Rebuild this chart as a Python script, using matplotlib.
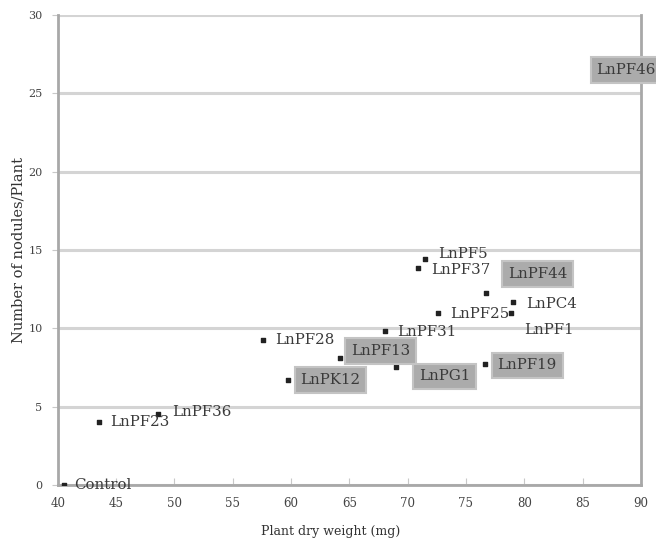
import matplotlib
matplotlib.use("Agg")
from matplotlib import pyplot as plt

# datos
cepas = ['Control', 'LnPF23', 'LnPF36', 'LnPF28', 'LnPK12', 'LnPF13', 'LnPG1',
         'LnPF31', 'LnPF19', 'LnPF25', 'LnPF44', 'LnPC4', 'LnPF1', 'LnPF5',
         'LnPF37', 'LnPF46']
peso_seco = [40.5, 43.5, 48.6, 57.6, 59.7, 64.2, 69.0,
             68.1, 76.6, 72.6, 76.7, 79.0, 78.9, 71.5,
             70.9, 86.0]
nodulos = [0.0, 4.0, 4.5, 9.25, 6.7, 8.1, 7.5,
           9.8, 7.7, 11.0, 12.25, 11.7, 11.0, 14.4,
           13.85, 26.5]
destacadas = ['LnPK12', 'LnPF13', 'LnPG1', 'LnPF19', 'LnPF44', 'LnPF46']

# desplazamiento de cada etiqueta (pixeles)
desplaz = {'Control': (11, 0), 'LnPF23': (12, 0), 'LnPF36': (14, 2),
           'LnPF28': (12, 0), 'LnPK12': (13, 0), 'LnPF13': (11, 7),
           'LnPG1': (23, -9), 'LnPF31': (12, -1), 'LnPF19': (13, -1),
           'LnPF25': (12, -1), 'LnPF44': (22, 19), 'LnPC4': (14, -2),
           'LnPF1': (13, -17), 'LnPF5': (13, 5), 'LnPF37': (13, -2),
           'LnPF46': (2, 0)}

plt.rcParams['font.family'] = ['DejaVu Serif']

fig = plt.figure(figsize=(6.56, 5.43), dpi=100)
ax = fig.add_axes([0.088, 0.107, 0.889, 0.865])

ax.scatter(peso_seco, nodulos, s=9, marker='s', color='#222222', zorder=3)

for nombre, x, y in zip(cepas, peso_seco, nodulos):
    dx, dy = desplaz[nombre]
    caja = None
    if nombre in destacadas:
        caja = dict(boxstyle='square,pad=0.38', facecolor='#ababab',
                    edgecolor='#c4c4c4', linewidth=1.5)
    ax.annotate(nombre, (x, y), xytext=(dx, dy), textcoords='offset pixels',
                fontsize=10.8, color='#3a3a3a', va='center', ha='left',
                bbox=caja, zorder=4, annotation_clip=False)

ax.set_xlim(40, 90)
ax.set_ylim(0, 30)
ax.set_xticks(range(40, 91, 5))
ax.set_yticks(range(0, 31, 5))
ax.yaxis.grid(True, color='#d4d4d4', linewidth=2.2)
ax.set_axisbelow(True)

for lado in ['left', 'bottom', 'right']:
    ax.spines[lado].set_color('#a8a8a8')
    ax.spines[lado].set_linewidth(2)
ax.spines['top'].set_visible(False)

ax.tick_params(axis='x', direction='in', length=5, color='#c8c8c8',
               labelsize=8.5, labelcolor='#444444', pad=9)
ax.tick_params(axis='y', direction='out', length=4, color='#c8c8c8',
               labelsize=8, labelcolor='#444444', pad=7)

ax.set_xlabel('Plant dry weight (mg)', fontsize=9, color='#333333')
ax.xaxis.set_label_coords(0.468, -0.085)
ax.set_ylabel('Number of nodules/Plant', fontsize=10.5, color='#333333')
ax.yaxis.set_label_coords(-0.056, 0.5)

plt.savefig('out.png', dpi=100)
